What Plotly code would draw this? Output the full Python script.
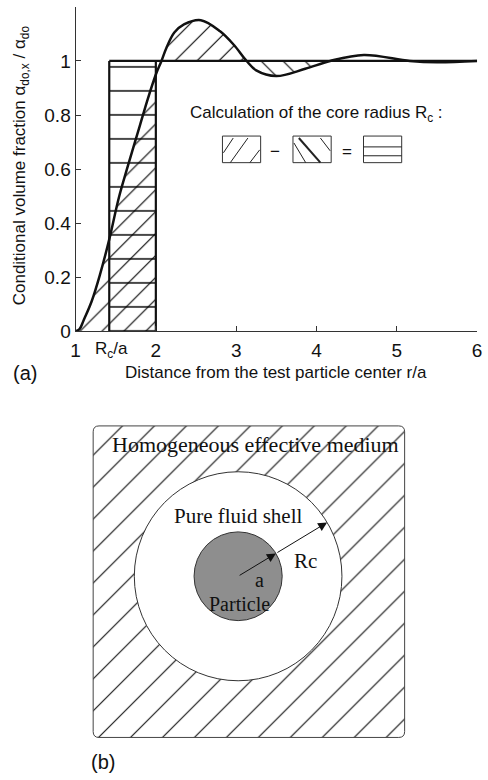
import numpy as np
import plotly.graph_objects as go

# ---------------- data ----------------
r_over_a = [1.0, 1.05, 1.1, 1.2, 1.3, 1.42, 1.54, 1.65, 1.8, 1.9, 2.0, 2.07, 2.13, 2.23, 2.35,
            2.56, 2.8, 2.97, 3.13, 3.25, 3.5, 3.86, 4.17, 4.59, 5.16, 5.5, 6.0]
alpha_ratio = [0.0, 0.008, 0.04, 0.11, 0.205, 0.34, 0.495, 0.61, 0.76, 0.86, 0.95, 1.0, 1.047, 1.105, 1.135,
               1.151, 1.11, 1.06, 1.0, 0.965, 0.944, 0.971, 1.0, 1.022, 1.0, 0.995, 1.0]
rc_over_a = 1.42
x_tick_vals = [1, 2, 3, 4, 5, 6]
y_tick_vals = [0, 0.2, 0.4, 0.6, 0.8, 1]
y_tick_text = ["0", "0.2", "0.4", "0.6", "0.8", "1"]

SANS = "Liberation Sans, Arial, Helvetica, sans-serif"
SERIF = "Liberation Serif, Times New Roman, serif"
W, H = 488, 780

r = np.array(r_over_a)
g = np.array(alpha_ratio)
crossings = r[(g == 1.0) & (r > 1.5)]
c1, c2, c3 = crossings[0], crossings[1], crossings[2]

clear = "rgba(0,0,0,0)"


def pat(shape, size, solidity):
    return dict(shape=shape, size=size, solidity=solidity, fgcolor="black",
                bgcolor=clear, fillmode="replace")


fig = go.Figure()
# region under curve from 1 to 2
mA = r <= 2.0
fig.add_trace(go.Scatter(x=r[mA], y=g[mA], mode="lines", line=dict(width=0, shape="spline"),
                         fill="tozeroy", fillcolor=clear, fillpattern=pat("/", 15.5, 0.07)))
# region above 1
mB = (r >= c1) & (r <= c2)
fig.add_trace(go.Scatter(x=[c1, c2], y=[1, 1], mode="lines", line=dict(width=0)))
fig.add_trace(go.Scatter(x=r[mB], y=g[mB], mode="lines", line=dict(width=0, shape="spline"),
                         fill="tonexty", fillcolor=clear, fillpattern=pat("/", 15.5, 0.07)))
# region below 1
mC = (r >= c2) & (r <= c3)
fig.add_trace(go.Scatter(x=[c2, c3], y=[1, 1], mode="lines", line=dict(width=0)))
fig.add_trace(go.Scatter(x=r[mC], y=g[mC], mode="lines", line=dict(width=0, shape="spline"),
                         fill="tonexty", fillcolor=clear, fillpattern=pat("\\", 15.5, 0.07)))
# core rectangle (horizontal hatch)
fig.add_trace(go.Scatter(x=[rc_over_a, 2, 2, rc_over_a, rc_over_a], y=[0, 0, 1, 1, 0], mode="lines",
                         line=dict(width=0), fill="toself", fillcolor=clear,
                         fillpattern=pat("-", 24, 0.06)))
# frame: vertical lines and the unit level
fig.add_trace(go.Scatter(x=[rc_over_a, rc_over_a, None, 2, 2, None, rc_over_a, 6],
                         y=[0, 1, None, 0, 1, None, 1, 1], mode="lines",
                         line=dict(color="#111", width=2.2)))
# the curve
fig.add_trace(go.Scatter(x=r, y=g, mode="lines", line=dict(color="#111", width=2.5, shape="spline")))

# ---------------- panel (b) schematic, pixel coordinates ----------------
bx0, bx1, by0, by1, rad = 90, 408, 432, 748, 6
fig.add_trace(go.Scatter(x=[bx0, bx1, bx1, bx0, bx0], y=[by0, by0, by1, by1, by0], mode="lines",
                         line=dict(width=0), fill="toself", fillcolor=clear,
                         fillpattern=pat("/", 22.6, 0.045), xaxis="x2", yaxis="y2"))

shapes = []
px = dict(xref="x2", yref="y2")
shapes.append(dict(type="path", layer="above", line=dict(color="#444", width=1), **px,
                   path=(f"M{bx0+rad},{by0} L{bx1-rad},{by0} Q{bx1},{by0} {bx1},{by0+rad} "
                         f"L{bx1},{by1-rad} Q{bx1},{by1} {bx1-rad},{by1} L{bx0+rad},{by1} "
                         f"Q{bx0},{by1} {bx0},{by1-rad} L{bx0},{by0+rad} Q{bx0},{by0} {bx0+rad},{by0} Z")))
cx, cy, R_out, R_in = 238, 584.5, 106, 45
shapes.append(dict(type="circle", layer="above", fillcolor="white", line=dict(color="#333", width=1),
                   x0=cx - R_out, x1=cx + R_out, y0=cy - R_out, y1=cy + R_out, **px))
shapes.append(dict(type="circle", layer="above", fillcolor="#8e8e8e", line=dict(color="#333", width=1),
                   x0=cx - R_in, x1=cx + R_in, y0=cy - R_in, y1=cy + R_in, **px))

# legend boxes of panel (a)
for (x0, x1) in [(222, 261), (294, 333), (366, 405)]:
    shapes.append(dict(type="rect", x0=x0, x1=x1, y0=138, y1=165, line=dict(color="#333", width=1), **px))
segs = [((223, 155), (233, 140), 1), ((230, 165), (248, 140), 1), ((250, 165), (260, 152), 1),
        ((295, 145), (307, 165), 1), ((300, 140), (322, 165), 2), ((322, 140), (332, 153), 1),
        ((366, 149), (405, 149), 1), ((366, 158), (405, 158), 1)]
for (a, b, w) in segs:
    shapes.append(dict(type="line", x0=a[0], y0=a[1], x1=b[0], y1=b[1],
                       line=dict(color="#222", width=w), **px))

ang = np.deg2rad(31)
ex, ey = np.cos(ang), -np.sin(ang)
ann = []
ann.append(dict(x=cx + R_in * ex, y=cy + R_in * ey, ax=cx, ay=cy, axref="x2", ayref="y2", **px,
                text="", showarrow=True, arrowhead=2, arrowsize=1.8, arrowwidth=1, arrowcolor="#111"))
ann.append(dict(x=cx + R_out * ex, y=cy + R_out * ey, ax=cx + R_in * ex, ay=cy + R_in * ey,
                axref="x2", ayref="y2", **px,
                text="", showarrow=True, arrowhead=2, arrowsize=1.8, arrowwidth=1, arrowcolor="#111"))

DY = 6  # visual centring offset of annotation text


def txt(t, x, y, size, fam=SANS, dy=DY, **kw):
    d = dict(text=t, x=x, y=y + dy, showarrow=False, font=dict(family=fam, size=size, color="#111"),
             xanchor="center", yanchor="middle", **px)
    d.update(kw)
    return d


ann += [
    txt("Homogeneous effective medium", 256, 445, 22, SERIF),
    txt("Pure fluid shell", 238, 517, 21, SERIF),
    txt("Rc", 307, 563, 21, SERIF),
    txt("a", 260, 582, 20, SERIF),
    txt("Particle", 239, 607, 20, SERIF),
    txt("(b)", 100, 767, 20),
    txt("(a)", 20, 372, 20),
    txt("Distance from the test particle center r/a", 277, 372, 17),
    txt("R<sub>c</sub>/a", 109, 352, 17, dy=3),
    txt("Calculation of the core radius R<sub>c</sub> :", 318, 113, 17, dy=3),
    txt("\u2212", 276, 152, 17, dy=2),
    txt("=", 349, 152, 17, dy=2),
    txt("Conditional volume fraction \u03b1<sub>do,x</sub> / \u03b1<sub>do</sub>", 16, 168, 17, dy=0,
        textangle=-90),
]

axis_common = dict(showgrid=False, zeroline=False, showline=True, linecolor="#333", linewidth=1,
                   ticks="inside", ticklen=5, tickcolor="#333",
                   tickfont=dict(family=SANS, size=19, color="#111"))
fig.update_layout(
    width=W, height=H, margin=dict(l=0, r=0, t=0, b=0),
    paper_bgcolor="white", plot_bgcolor="rgba(0,0,0,0)", showlegend=False,
    xaxis=dict(domain=[72 / W, 482 / W], range=[1, 6], tickvals=x_tick_vals, anchor="y",
               ticklabelstandoff=2, **axis_common),
    yaxis=dict(domain=[1 - 336 / H, 1 - 7 / H], range=[0, 1.2], tickvals=y_tick_vals, ticktext=y_tick_text,
               anchor="x", **axis_common),
    xaxis2=dict(domain=[0, 1], range=[0, W], visible=False, anchor="y2"),
    yaxis2=dict(domain=[0, 1], range=[H, 0], visible=False, anchor="x2"),
    shapes=shapes, annotations=ann,
)
fig.write_html("out.html")
